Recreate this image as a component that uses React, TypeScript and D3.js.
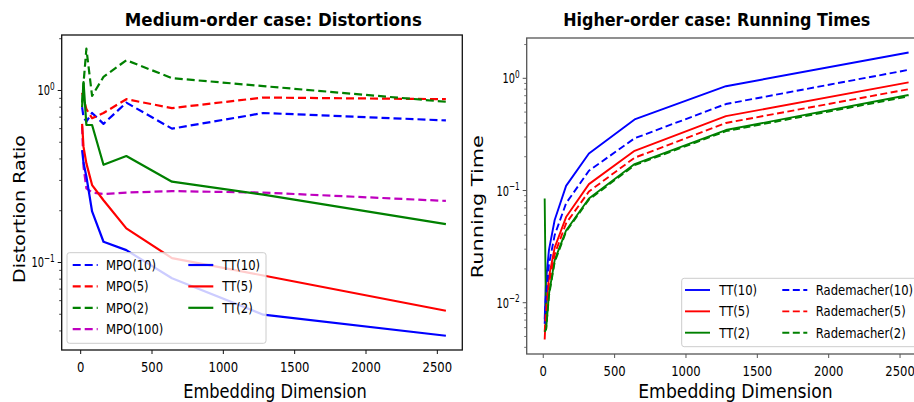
import React from "react";
import * as d3 from "d3";

// embedding dimensions (shared by both panels)
const dims = [10, 20, 40, 80, 160, 320, 640, 1280, 2560];

// left panel: distortion ratio
const mpo10 = [0.8, 0.7, 0.66, 0.74, 0.64, 0.85, 0.6, 0.74, 0.67];
const mpo5 = [0.97, 0.9, 0.78, 0.69, 0.74, 0.89, 0.79, 0.91, 0.89];
const mpo2 = [0.85, 1.1, 1.75, 0.93, 1.2, 1.5, 1.18, 1.06, 0.86];
const mpo100 = [0.62, 0.36, 0.27, 0.255, 0.25, 0.255, 0.26, 0.255, 0.228];
const tt10 = [0.45, 0.38, 0.316, 0.198, 0.132, 0.118, 0.081, 0.0497, 0.0375];
const tt5 = [0.64, 0.47, 0.377, 0.282, 0.23, 0.158, 0.106, 0.084, 0.0524];
const tt2 = [0.8, 1.12, 0.63, 0.63, 0.37, 0.416, 0.295, 0.248, 0.167];

// right panel: running times
const ttTime10 = [0.0071, 0.016, 0.0296, 0.0546, 0.11, 0.214, 0.43, 0.85, 1.7];
const ttTime5 = [0.0047, 0.009, 0.017, 0.031, 0.058, 0.114, 0.226, 0.46, 0.92];
const ttTime2 = [0.085, 0.0058, 0.012, 0.024, 0.044, 0.085, 0.172, 0.346, 0.71];
const rad10 = [0.0065, 0.012, 0.022, 0.04, 0.077, 0.15, 0.292, 0.59, 1.19];
const rad5 = [0.0055, 0.0085, 0.015, 0.027, 0.051, 0.098, 0.196, 0.4, 0.8];
const rad2 = [0.0055, 0.0058, 0.0115, 0.023, 0.043, 0.083, 0.168, 0.338, 0.69];

const xTicks = [0, 500, 1000, 1500, 2000, 2500];
const leftYTicks = [0.1, 1];
const rightYTicks = [0.01, 0.1, 1];

const BLUE = "#0000ff";
const RED = "#ff0000";
const GREEN = "#008000";
const MAGENTA = "#bf00bf";
const FONT = "'DejaVu Sans', sans-serif";

type Series = { label: string; values: number[]; color: string; dashed: boolean };

const leftSeries: Series[] = [
  { label: "MPO(10)", values: mpo10, color: BLUE, dashed: true },
  { label: "MPO(5)", values: mpo5, color: RED, dashed: true },
  { label: "MPO(2)", values: mpo2, color: GREEN, dashed: true },
  { label: "MPO(100)", values: mpo100, color: MAGENTA, dashed: true },
  { label: "TT(10)", values: tt10, color: BLUE, dashed: false },
  { label: "TT(5)", values: tt5, color: RED, dashed: false },
  { label: "TT(2)", values: tt2, color: GREEN, dashed: false },
];

const rightSeries: Series[] = [
  { label: "TT(10)", values: ttTime10, color: BLUE, dashed: false },
  { label: "TT(5)", values: ttTime5, color: RED, dashed: false },
  { label: "TT(2)", values: ttTime2, color: GREEN, dashed: false },
  { label: "Rademacher(10)", values: rad10, color: BLUE, dashed: true },
  { label: "Rademacher(5)", values: rad5, color: RED, dashed: true },
  { label: "Rademacher(2)", values: rad2, color: GREEN, dashed: true },
];

// squeezed text: the reference was compressed horizontally
function SText(props: any) {
  const { x, y, sx = 0.83, rotate, size, weight, anchor = "middle", len, children } = props;
  return (
    <text
      transform={`translate(${x},${y}) scale(${sx},1)${rotate ? ` rotate(${rotate})` : ""}`}
      fontFamily={FONT}
      fontSize={size}
      fontWeight={weight}
      textAnchor={anchor}
      textLength={len}
      lengthAdjust={len ? "spacingAndGlyphs" : undefined}
      fill="#000"
    >
      {children}
    </text>
  );
}

function Panel(props: any) {
  const { id, box, xDomain, yDomain, yTicks, series, lw, dash, spine, legend } = props;
  const x = d3.scaleLinear().domain(xDomain).range([box.left, box.right]);
  const y = d3.scaleLog().domain(yDomain).range([box.bottom, box.top]);
  const line = d3
    .line<number>()
    .x((_, i) => x(dims[i]))
    .y((d) => y(d));

  const minor: number[] = [];
  const e0 = Math.floor(Math.log10(yDomain[0]));
  const e1 = Math.ceil(Math.log10(yDomain[1]));
  for (let e = e0; e <= e1; e++) {
    for (let k = 2; k <= 9; k++) {
      const v = k * Math.pow(10, e);
      if (v >= yDomain[0] && v <= yDomain[1]) minor.push(v);
    }
  }

  const byLabel = (l: string) => series.find((s: Series) => s.label === l);

  return (
    <g>
      <defs>
        <clipPath id={id}>
          <rect x={box.left} y={box.top} width={box.right - box.left} height={box.bottom - box.top} />
        </clipPath>
      </defs>
      <g clipPath={`url(#${id})`}>
        {series.map((s: Series) => (
          <path
            key={s.label}
            d={line(s.values) ?? undefined}
            fill="none"
            stroke={s.color}
            strokeWidth={lw}
            strokeDasharray={s.dashed ? dash : undefined}
            strokeLinejoin="round"
          />
        ))}
      </g>

      {/* spines */}
      <rect
        x={box.left}
        y={box.top}
        width={box.right - box.left}
        height={box.bottom - box.top}
        fill="none"
        stroke={spine}
        strokeWidth={1.3}
      />

      {/* x axis */}
      {xTicks.map((t) => (
        <g key={t}>
          <line x1={x(t)} x2={x(t)} y1={box.bottom} y2={box.bottom + 4} stroke={spine} strokeWidth={1} />
          <SText x={x(t)} y={box.bottom + 22} size={14}>
            {t}
          </SText>
        </g>
      ))}

      {/* y axis */}
      {minor.map((v) => (
        <line key={v} x1={box.left - 2.5} x2={box.left} y1={y(v)} y2={y(v)} stroke={spine} strokeWidth={0.8} />
      ))}
      {yTicks.map((t: number) => {
        const ex = Math.round(Math.log10(t));
        return (
          <g key={t}>
            <line x1={box.left - 4} x2={box.left} y1={y(t)} y2={y(t)} stroke={spine} strokeWidth={1} />
            <SText x={box.left - 7} y={y(t) + 5} size={14} sx={0.7} anchor="end">
              10
              <tspan fontSize={10.5} dy={-5.5}>
                {ex < 0 ? `\u2212${-ex}` : ex}
              </tspan>
            </SText>
          </g>
        );
      })}

      {/* legend */}
      <rect
        x={legend.x}
        y={legend.y}
        width={legend.w}
        height={legend.h}
        rx={2.5}
        fill="#fff"
        fillOpacity={0.8}
        stroke="#cccccc"
        strokeWidth={1}
      />
      {legend.columns.map((col: any, ci: number) =>
        col.items.map((lab: string, ri: number) => {
          const s = byLabel(lab);
          const ry = legend.row0 + ri * legend.step;
          return (
            <g key={`${ci}-${ri}`}>
              <line
                x1={col.hx}
                x2={col.hx + 25}
                y1={ry}
                y2={ry}
                stroke={s.color}
                strokeWidth={lw}
                strokeDasharray={s.dashed ? dash : undefined}
              />
              <SText x={col.tx} y={ry + 5} size={14} anchor="start">
                {lab}
              </SText>
            </g>
          );
        })
      )}
    </g>
  );
}

export default function App() {
  return (
    <svg
      width={914}
      height={402}
      style={{ position: "absolute", left: 0, top: 0, background: "#fff" }}
    >
      <rect width={914} height={402} fill="#fff" />

      <Panel
        id="clipLeft"
        box={{ left: 61.7, top: 35, right: 462.3, bottom: 350 }}
        xDomain={[-133, 2675]}
        yDomain={[0.03099, 2.102]}
        yTicks={leftYTicks}
        series={leftSeries}
        lw={2.2}
        dash="8,4"
        spine="#111"
        legend={{
          x: 67,
          y: 252.7,
          w: 199,
          h: 90.6,
          row0: 265,
          step: 21.4,
          columns: [
            { hx: 72.7, tx: 106, items: ["MPO(10)", "MPO(5)", "MPO(2)", "MPO(100)"] },
            { hx: 188.3, tx: 222.3, items: ["TT(10)", "TT(5)", "TT(2)"] },
          ],
        }}
      />

      <Panel
        id="clipRight"
        box={{ left: 526.7, top: 38, right: 926.8, bottom: 354 }}
        xDomain={[-116, 2687.5]}
        yDomain={[0.00349, 2.287]}
        yTicks={rightYTicks}
        series={rightSeries}
        lw={1.9}
        dash="7,3.5"
        spine="#555"
        legend={{
          x: 681.7,
          y: 278.3,
          w: 260,
          h: 68.4,
          row0: 290,
          step: 21.35,
          columns: [
            { hx: 685, tx: 719.3, items: ["TT(10)", "TT(5)", "TT(2)"] },
            { hx: 782.3, tx: 815.7, items: ["Rademacher(10)", "Rademacher(5)", "Rademacher(2)"] },
          ],
        }}
      />

      {/* titles */}
      <SText x={273.3} y={26} size={18} weight="bold" sx={1} len={297}>
        Medium-order case: Distortions
      </SText>
      <SText x={716.7} y={26} size={18} weight="bold" sx={1} len={307}>
        Higher-order case: Running Times
      </SText>

      {/* axis labels */}
      <SText x={275} y={398} size={19} sx={1} len={183.5}>
        Embedding Dimension
      </SText>
      <SText x={735.5} y={398} size={19} sx={1} len={194.5}>
        Embedding Dimension
      </SText>
      <SText x={25} y={209} size={19} sx={0.84} rotate={-90} len={148}>
        Distortion Ratio
      </SText>
      <SText x={483} y={206.7} size={19} sx={0.84} rotate={-90} len={143}>
        Running Time
      </SText>
    </svg>
  );
}
